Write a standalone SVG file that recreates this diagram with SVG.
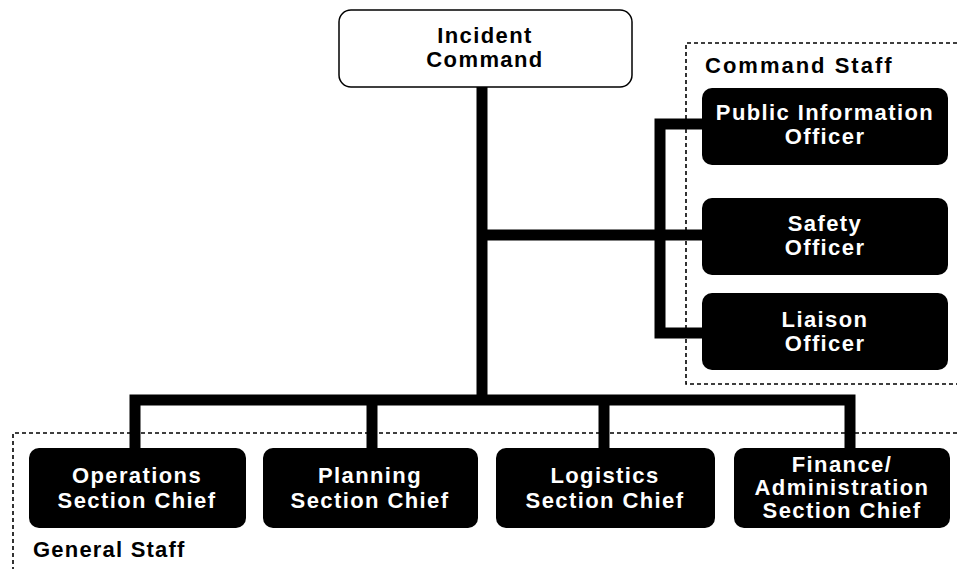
<svg xmlns="http://www.w3.org/2000/svg" width="957" height="569" viewBox="0 0 957 569">
<style>
.bg{fill:#fff}
.dash{fill:none;stroke:#000;stroke-width:1.6;stroke-dasharray:4 3}
.conn{fill:none;stroke:#000;stroke-width:11;stroke-linejoin:miter;stroke-linecap:butt}
.dark{fill:#000}
.light{fill:#fff;stroke:#000;stroke-width:1.5}
.t{font-family:"Liberation Sans",Arial,sans-serif;font-weight:bold;font-size:22px;letter-spacing:1.4px;text-anchor:middle}
.w{fill:#fff}
.k{fill:#000}
.lbl{font-family:"Liberation Sans",Arial,sans-serif;font-weight:bold;font-size:22px;fill:#000}
</style>
<rect class="bg" x="0" y="0" width="957" height="569"/>
<g id="groups">
<path class="dash" d="M957,43 H686 V384 H957"/>
<text class="lbl" x="705" y="73" letter-spacing="2">Command Staff</text>
<path class="dash" d="M957,433 H13 V569"/>
<text class="lbl" x="33" y="557" letter-spacing="1.2">General Staff</text>
</g>
<g id="connectors">
<path class="conn" d="M482,87 V400"/>
<path class="conn" d="M482,235 H702"/>
<path class="conn" d="M702,124 H660 V333 H702"/>
<path class="conn" d="M135,448 V400 H850 V448"/>
<path class="conn" d="M372,400 V448"/>
<path class="conn" d="M604,400 V448"/>
</g>
<g id="incident-command">
<rect class="light" x="339" y="10" width="293" height="77" rx="12"/>
<text class="t k" x="485" y="43" letter-spacing="1.8">Incident</text>
<text class="t k" x="485" y="67" letter-spacing="1.8">Command</text>
</g>
<g id="public-information-officer">
<rect class="dark" x="702" y="88" width="246" height="77" rx="10"/>
<text class="t w" x="825" y="120">Public Information</text>
<text class="t w" x="825" y="144">Officer</text>
</g>
<g id="safety-officer">
<rect class="dark" x="702" y="198" width="246" height="77" rx="10"/>
<text class="t w" x="825" y="231">Safety</text>
<text class="t w" x="825" y="255">Officer</text>
</g>
<g id="liaison-officer">
<rect class="dark" x="702" y="293" width="246" height="77" rx="10"/>
<text class="t w" x="825" y="327">Liaison</text>
<text class="t w" x="825" y="351">Officer</text>
</g>
<g id="operations-section-chief">
<rect class="dark" x="29" y="448" width="217" height="80" rx="10"/>
<text class="t w" x="137" y="483">Operations</text>
<text class="t w" x="137" y="508">Section Chief</text>
</g>
<g id="planning-section-chief">
<rect class="dark" x="263" y="448" width="215" height="80" rx="10"/>
<text class="t w" x="370" y="483">Planning</text>
<text class="t w" x="370" y="508">Section Chief</text>
</g>
<g id="logistics-section-chief">
<rect class="dark" x="496" y="448" width="219" height="80" rx="10"/>
<text class="t w" x="605" y="483">Logistics</text>
<text class="t w" x="605" y="508">Section Chief</text>
</g>
<g id="finance-administration-section-chief">
<rect class="dark" x="734" y="448" width="216" height="80" rx="10"/>
<text class="t w" x="842" y="472">Finance/</text>
<text class="t w" x="842" y="495">Administration</text>
<text class="t w" x="842" y="518">Section Chief</text>
</g>
</svg>
